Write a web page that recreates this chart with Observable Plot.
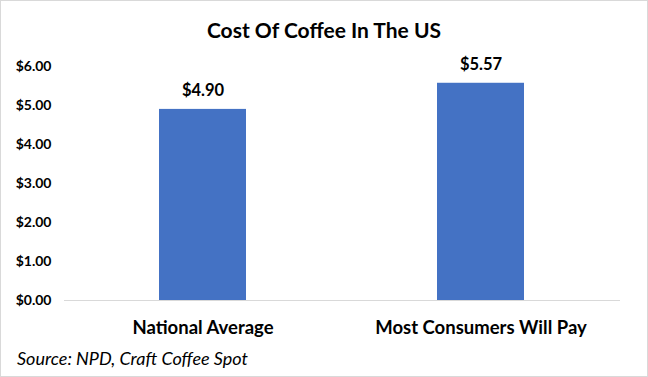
<!DOCTYPE html>
<html>
<head>
<meta charset="utf-8">
<script src="https://cdn.jsdelivr.net/npm/d3@7"></script>
<script src="https://cdn.jsdelivr.net/npm/@observablehq/plot@0.6"></script>
<style>
  html, body { margin: 0; padding: 0; background: #fff; }
  #wrap { position: relative; width: 648px; height: 377px; box-shadow: inset 0 0 0 1px #d9d9d9; font-family: Lato, "Open Sans", sans-serif; overflow: hidden; }
  #title { height: 50px; line-height: 60px; text-align: center; font-weight: bold; font-size: 21px; color: #000; }
  #source { position: absolute; left: 17px; top: 347px; font-style: italic; font-size: 18px; color: #000; }
  svg { display: block; }
</style>
</head>
<body>
<div id="wrap">
  <div id="title">Cost Of Coffee In The US</div>
  <div id="chart"></div>
  <div id="source">Source: NPD, Craft Coffee Spot</div>
</div>
<script>
const categories = ["National Average", "Most Consumers Will Pay"];
const values = [4.90, 5.57];
const valueLabels = ["$4.90", "$5.57"];
const yTicks = [0, 1, 2, 3, 4, 5, 6];

const data = categories.map((c, i) => ({category: c, value: values[i], label: valueLabels[i]}));

const chart = Plot.plot({
  width: 648,
  height: 290,
  marginLeft: 64,
  marginRight: 28,
  marginTop: 16,
  marginBottom: 40,
  style: {fontFamily: "Lato, 'Open Sans', sans-serif", background: "transparent", color: "#000"},
  x: {domain: categories, paddingInner: 0.687, paddingOuter: 0.3435, label: null, tickSize: 0, tickPadding: 20},
  y: {domain: [0, 6], ticks: yTicks, tickFormat: d => "$" + d.toFixed(2), label: null, tickSize: 0, tickPadding: 13},
  marks: [
    Plot.barY(data, {x: "category", y: "value", fill: "#4472c4"}),
    Plot.ruleY([0], {stroke: "#d9d9d9", strokeWidth: 1}),
    Plot.text(data, {x: "category", y: "value", text: "label", dy: -19, fontSize: 16.5, fontWeight: "bold", fill: "#000"})
  ]
});
d3.select(chart).selectAll("g[aria-label='y-axis tick label']").attr("font-weight", "bold").attr("font-size", 14);
d3.select(chart).selectAll("g[aria-label='x-axis tick label']").attr("font-weight", "bold").attr("font-size", 18.5);
document.getElementById("chart").appendChild(chart);
</script>
</body>
</html>
